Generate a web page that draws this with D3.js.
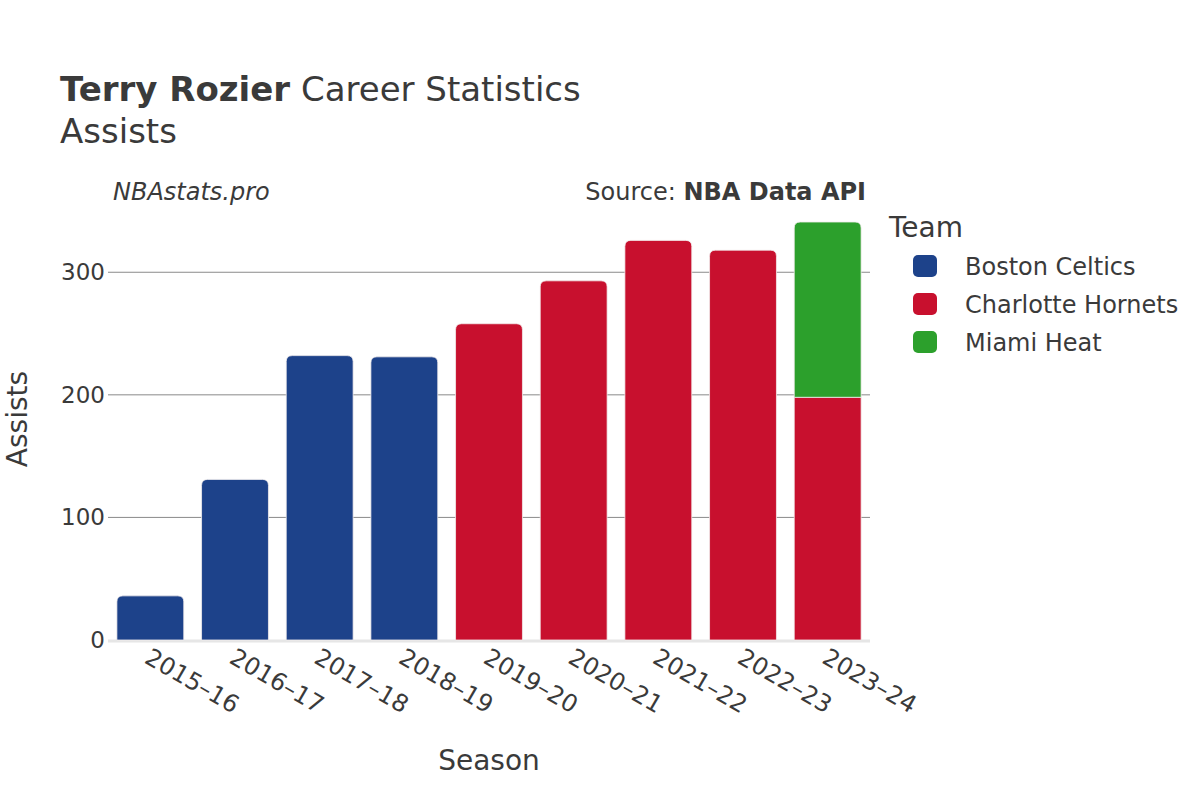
<!DOCTYPE html>
<html>
<head>
<meta charset="utf-8">
<script src="https://cdn.jsdelivr.net/npm/d3@7"></script>
<style>
body { margin: 0; background: #fff; }
svg text { font-family: "DejaVu Sans", sans-serif; fill: #3a3a3a; }
</style>
</head>
<body>
<svg width="1200" height="800"></svg>
<script>
var seasons = ["2015-16","2016-17","2017-18","2018-19","2019-20","2020-21","2021-22","2022-23","2023-24"]
var teams = ["Boston Celtics", "Charlotte Hornets", "Miami Heat"]
var teamColors = ["#1d428a", "#c8102e", "#2ca02c"]
// assists per season, per team (0 = did not play there)
var boston    = [36, 131, 232, 231, 0, 0, 0, 0, 0]
var charlotte = [0, 0, 0, 0, 258, 293, 326, 318, 198]
var miami     = [0, 0, 0, 0, 0, 0, 0, 0, 143]
var yTicks = [0, 100, 200, 300]

var svg = d3.select('svg')
var pLeft = 108, pRight = 870, pTop = 223, pBottom = 640

var rows = seasons.map(function(s, i) {
    return {season: s, "Boston Celtics": boston[i], "Charlotte Hornets": charlotte[i], "Miami Heat": miami[i]}
})
var stack = d3.stack().keys(teams)(rows)

var x = d3.scaleBand().domain(seasons).range([pLeft, pRight]).paddingInner(0.21).paddingOuter(0.105)
var y = d3.scaleLinear().domain([0, d3.max(rows, function(d) { return d["Boston Celtics"] + d["Charlotte Hornets"] + d["Miami Heat"] })]).range([pBottom, pTop - 1])
var color = d3.scaleOrdinal().domain(teams).range(teamColors)

// grid
svg.append('g').selectAll('line')
    .data(yTicks.slice(1))
    .join('line')
    .attr('x1', pLeft).attr('x2', pRight)
    .attr('y1', function(d) { return y(d) }).attr('y2', function(d) { return y(d) })
    .attr('stroke', '#8a8a8a').attr('stroke-width', 1)

svg.append('line')
    .attr('x1', pLeft).attr('x2', pRight)
    .attr('y1', y(0) + 1).attr('y2', y(0) + 1)
    .attr('stroke', '#e6e6e6').attr('stroke-width', 3)

// y tick labels
svg.append('g').selectAll('text')
    .data(yTicks)
    .join('text')
    .attr('x', pLeft - 3)
    .attr('y', function(d) { return y(d) + 8 })
    .attr('text-anchor', 'end')
    .style('font-size', '23px')
    .text(function(d) { return d })

// top segment of each season gets rounded corners
function topKey(i) {
    var k = null
    teams.forEach(function(t) { if (rows[i][t] > 0) k = t })
    return k
}

function barPath(x0, y0, w, h, r) {
    if (r == 0) return 'M' + x0 + ',' + y0 + 'h' + w + 'v' + h + 'h' + (-w) + 'Z'
    return 'M' + x0 + ',' + (y0 + h) + 'V' + (y0 + r) + 'Q' + x0 + ',' + y0 + ' ' + (x0 + r) + ',' + y0
        + 'H' + (x0 + w - r) + 'Q' + (x0 + w) + ',' + y0 + ' ' + (x0 + w) + ',' + (y0 + r)
        + 'V' + (y0 + h) + 'Z'
}

svg.append('g').selectAll('g')
    .data(stack)
    .join('g')
    .attr('fill', function(d) { return color(d.key) })
    .each(function(layer) {
        d3.select(this).selectAll('path')
            .data(layer.filter(function(d) { return d[1] - d[0] > 0 }))
            .join('path')
            .attr('d', function(d) {
                var i = seasons.indexOf(d.data.season)
                var r = topKey(i) == layer.key ? 6 : 0
                return barPath(x(d.data.season), y(d[1]), x.bandwidth(), y(d[0]) - y(d[1]), r)
            })
            .attr('stroke', '#f3eeee').attr('stroke-width', 0.8)
    })

// x tick labels
svg.append('g').selectAll('text')
    .data(seasons)
    .join('text')
    .attr('transform', function(d) { return 'translate(' + (x(d) + x.bandwidth() / 2 - 7) + ',' + 662 + ') rotate(30)' })
    .style('font-size', '24px')
    .text(function(d) { return d.replace('-', '\u2013') })

// titles
var title = svg.append('text').attr('x', 60).attr('y', 101).style('font-size', '34px')
title.append('tspan').style('font-weight', 'bold').text('Terry Rozier')
title.append('tspan').text(' Career Statistics')
svg.append('text').attr('x', 60).attr('y', 143).style('font-size', '34px').text('Assists')

svg.append('text').attr('x', 113).attr('y', 200).style('font-size', '24px').style('font-style', 'italic').text('NBAstats.pro')
var src = svg.append('text').attr('x', 866).attr('y', 200).attr('text-anchor', 'end').style('font-size', '24px')
src.append('tspan').text('Source: ')
src.append('tspan').style('font-weight', 'bold').text('NBA Data API')

svg.append('text').attr('x', (pLeft + pRight) / 2).attr('y', 770).attr('text-anchor', 'middle').style('font-size', '28px').text('Season')
svg.append('text').attr('transform', 'translate(27,419) rotate(-90)')
    .attr('text-anchor', 'middle').style('font-size', '28px').text('Assists')

// legend
svg.append('text').attr('x', 889).attr('y', 237).style('font-size', '28px').text('Team')
var lg = svg.append('g').selectAll('g')
    .data(teams)
    .join('g')
    .attr('transform', function(d, i) { return 'translate(913,' + (266 + i * 38) + ')' })
lg.append('rect').attr('x', 0).attr('y', -11).attr('width', 24).attr('height', 22).attr('rx', 5)
    .attr('fill', function(d) { return color(d) })
lg.append('text').attr('x', 52).attr('y', 9).style('font-size', '24px').text(function(d) { return d })
</script>
</body>
</html>
